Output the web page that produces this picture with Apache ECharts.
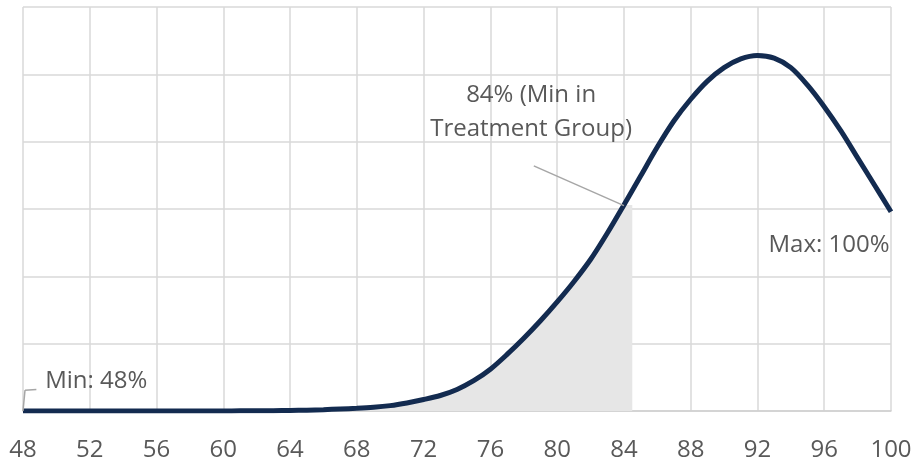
<!DOCTYPE html>
<html>
<head>
<meta charset="utf-8">
<script src="https://cdn.jsdelivr.net/npm/echarts@6/dist/echarts.min.js"></script>
<style>
  html, body { margin: 0; padding: 0; background: #fff; }
  #chart { width: 914px; height: 462px; }
</style>
</head>
<body>
<div id="chart"></div>
<script>
  // score (x) and density (y)
  var scores = [48, 49, 50, 51, 52, 53, 54, 55, 56, 57, 58, 59, 60, 61, 62, 63, 64, 65, 66, 67,
    68, 69, 70, 71, 72, 73, 74, 75, 76, 77, 78, 79, 80, 81, 82, 83, 84, 85, 86, 87,
    88, 89, 90, 91, 92, 93, 94, 95, 96, 97, 98, 99, 100];
  var density = [0, 0, 0, 0, 0, 0, 0, 0, 0, 0, 0, 0, 0.001, 0.002, 0.003, 0.005, 0.008, 0.012, 0.02, 0.03,
    0.04, 0.055, 0.08, 0.12, 0.17, 0.23, 0.32, 0.45, 0.62, 0.84, 1.08, 1.34, 1.62, 1.92, 2.25, 2.64, 3.06, 3.49, 3.92, 4.31,
    4.63, 4.9, 5.1, 5.23, 5.28, 5.24, 5.1, 4.84, 4.52, 4.16, 3.76, 3.36, 2.96];
  // shaded part ends just past 84
  var shadeEnd = 84.5;
  var xTicks = [48, 100, 4];

  var curve = scores.map(function (s, i) { return [s, density[i]]; });
  var shade = curve.filter(function (p) { return p[0] <= 84; });
  shade.push([shadeEnd, shade[shade.length - 1][1]]);

  var labelColor = '#595959';
  var font = '"Open Sans", sans-serif';

  var myChart = echarts.init(document.getElementById('chart'));
  myChart.setOption({
    animation: false,
    grid: { left: 23, right: 23, top: 7, bottom: 51, outerBoundsMode: 'none' },
    xAxis: {
      type: 'value',
      min: xTicks[0],
      max: xTicks[1],
      interval: xTicks[2],
      axisLine: { show: true, lineStyle: { color: '#d0d0d0', width: 1.5 } },
      axisTick: { show: false },
      axisLabel: { color: labelColor, fontSize: 24, fontFamily: font, margin: 27 },
      splitLine: { show: true, lineStyle: { color: '#d9d9d9', width: 1.5 } }
    },
    yAxis: {
      type: 'value',
      min: 0,
      max: 6,
      interval: 1,
      axisLine: { show: false },
      axisTick: { show: false },
      axisLabel: { show: false },
      splitLine: { lineStyle: { color: '#d9d9d9', width: 1.5 } }
    },
    series: [
      {
        name: 'shade',
        type: 'line',
        data: shade,
        smooth: 0.3,
        symbol: 'none',
        lineStyle: { width: 0 },
        areaStyle: { color: '#e6e6e6', opacity: 1 },
        z: 1
      },
      {
        name: 'curve',
        type: 'line',
        data: curve,
        smooth: 0.3,
        symbol: 'none',
        lineStyle: { color: '#132b50', width: 5 },
        z: 3,
        markLine: {
          silent: true,
          symbol: 'none',
          lineStyle: { color: '#a6a6a6', width: 1.5, type: 'solid' },
          label: { show: false },
          data: [
            [{ coord: [78.6, 3.64] }, { coord: [84, 3.05] }],
            [{ coord: [48, 0] }, { coord: [48.12, 0.31] }],
            [{ coord: [48.12, 0.31] }, { coord: [48.8, 0.32] }]
          ]
        },
        markPoint: {
          silent: true,
          symbol: 'circle',
          symbolSize: 1,
          itemStyle: { color: 'transparent' },
          label: { color: labelColor, fontSize: 24, fontFamily: font },
          data: [
            {
              coord: [78.44, 4.44],
              label: { position: 'inside', align: 'center', verticalAlign: 'middle', lineHeight: 34,
                formatter: '84% (Min in\nTreatment Group)' }
            },
            {
              coord: [100, 2.46],
              label: { position: 'left', distance: 1, formatter: 'Max: 100%' }
            },
            {
              coord: [49.3, 0.44],
              label: { position: 'right', distance: 0, formatter: 'Min: 48%' }
            }
          ]
        }
      }
    ]
  });
</script>
</body>
</html>
